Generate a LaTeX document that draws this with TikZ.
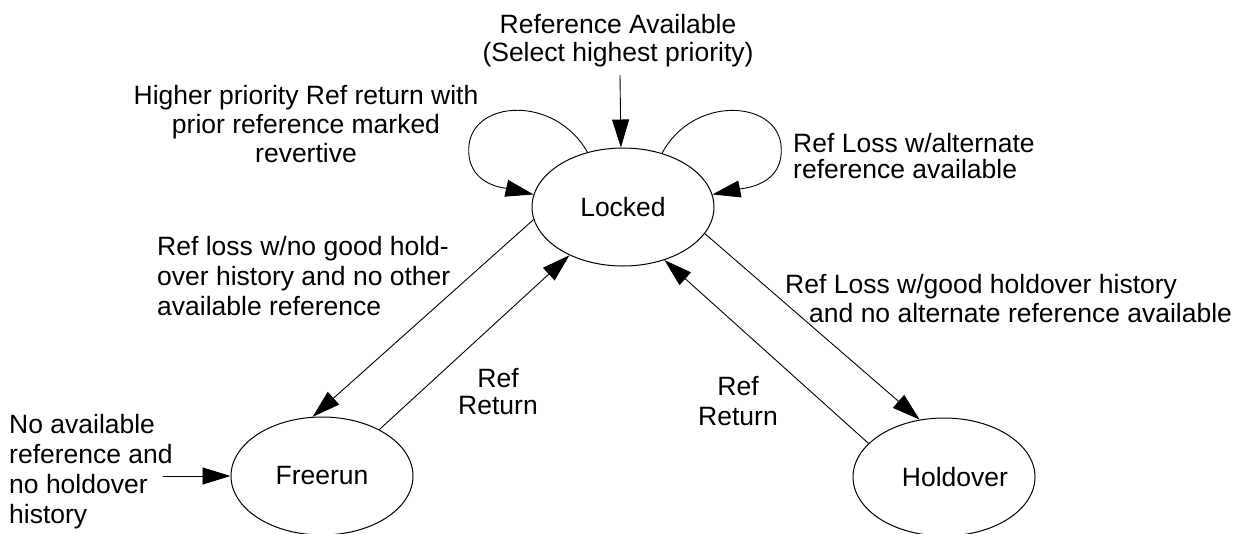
\documentclass[tikz,border=0pt]{standalone}
\usepackage{fontspec}
\setmainfont{Liberation Sans}
\usetikzlibrary{arrows.meta,shapes.geometric}
\begin{document}
\begin{tikzpicture}[x=1pt,y=-1pt,
  state/.style={draw, ellipse, line width=1pt, minimum width=182pt, minimum height=118pt, inner sep=0pt, font=\fontsize{26.5}{30}\selectfont},
  lbl/.style={inner sep=0pt, font=\fontsize{26.5}{30}\selectfont},
  conn/.style={line width=0.9pt, -{Triangle[length=28pt,width=17pt]}},
]
\useasboundingbox[fill=white] (0,0) rectangle (1245,533);
% states
\node[state] (locked) at (623,207) {Locked};
\node[state] (freerun) at (322,476) {Freerun};
\node[state] (holdover) at (944,477) {\hspace*{22pt}Holdover};
% free ends
\coordinate (topin) at (620,75);
\coordinate (frin) at (163,476);
% connectors
\draw[conn] (topin) -- (locked.92);
\draw[conn] (frin) -- (freerun.west);
\draw[conn] (locked.188) -- (freerun.99);
\draw[conn] (freerun.39) -- (locked.222);
\draw[conn] (locked.342) -- (holdover.113);
\draw[conn] (holdover.156) -- (locked.308);
\draw[conn] (locked.123) .. controls (555,95) and (474,100) .. (469,145)
  .. controls (465,185) and (505,188) .. (locked.172);
\draw[conn] (locked.54) .. controls (693,95) and (776,100) .. (781,145)
  .. controls (785,185) and (745,188) .. (locked.8);
% labels (anchor=base is the baseline of the last line)
\node[lbl, align=center, anchor=base] (ltop) at (618,61) {Reference Available\\[-2pt](Select highest priority)};
\node[lbl, align=center, anchor=base] (lhigh) at (306,162) {Higher priority Ref return with\\[-1pt]prior reference marked\\[-1pt]revertive};
\node[lbl, align=left, anchor=base west] (lalt) at (793,178) {Ref Loss w/alternate\\[-4pt]reference available};
\node[lbl, align=left, anchor=base west] (lnogood) at (157,315) {Ref loss w/no good hold-\\over history and no other\\available reference};
\node[lbl, align=left, anchor=base west] (lgood) at (785,322) {Ref Loss w/good holdover history\\[-1pt]\hspace*{24pt}and no alternate reference available};
\node[lbl, align=center, anchor=base] (lret1) at (498,414) {Ref\\[-3pt]Return};
\node[lbl, align=center, anchor=base] (lret2) at (738,425) {Ref\\Return};
\node[lbl, align=left, anchor=base west] (lnoav) at (9,523) {No available\\reference and\\no holdover\\history};
\end{tikzpicture}
\end{document}
